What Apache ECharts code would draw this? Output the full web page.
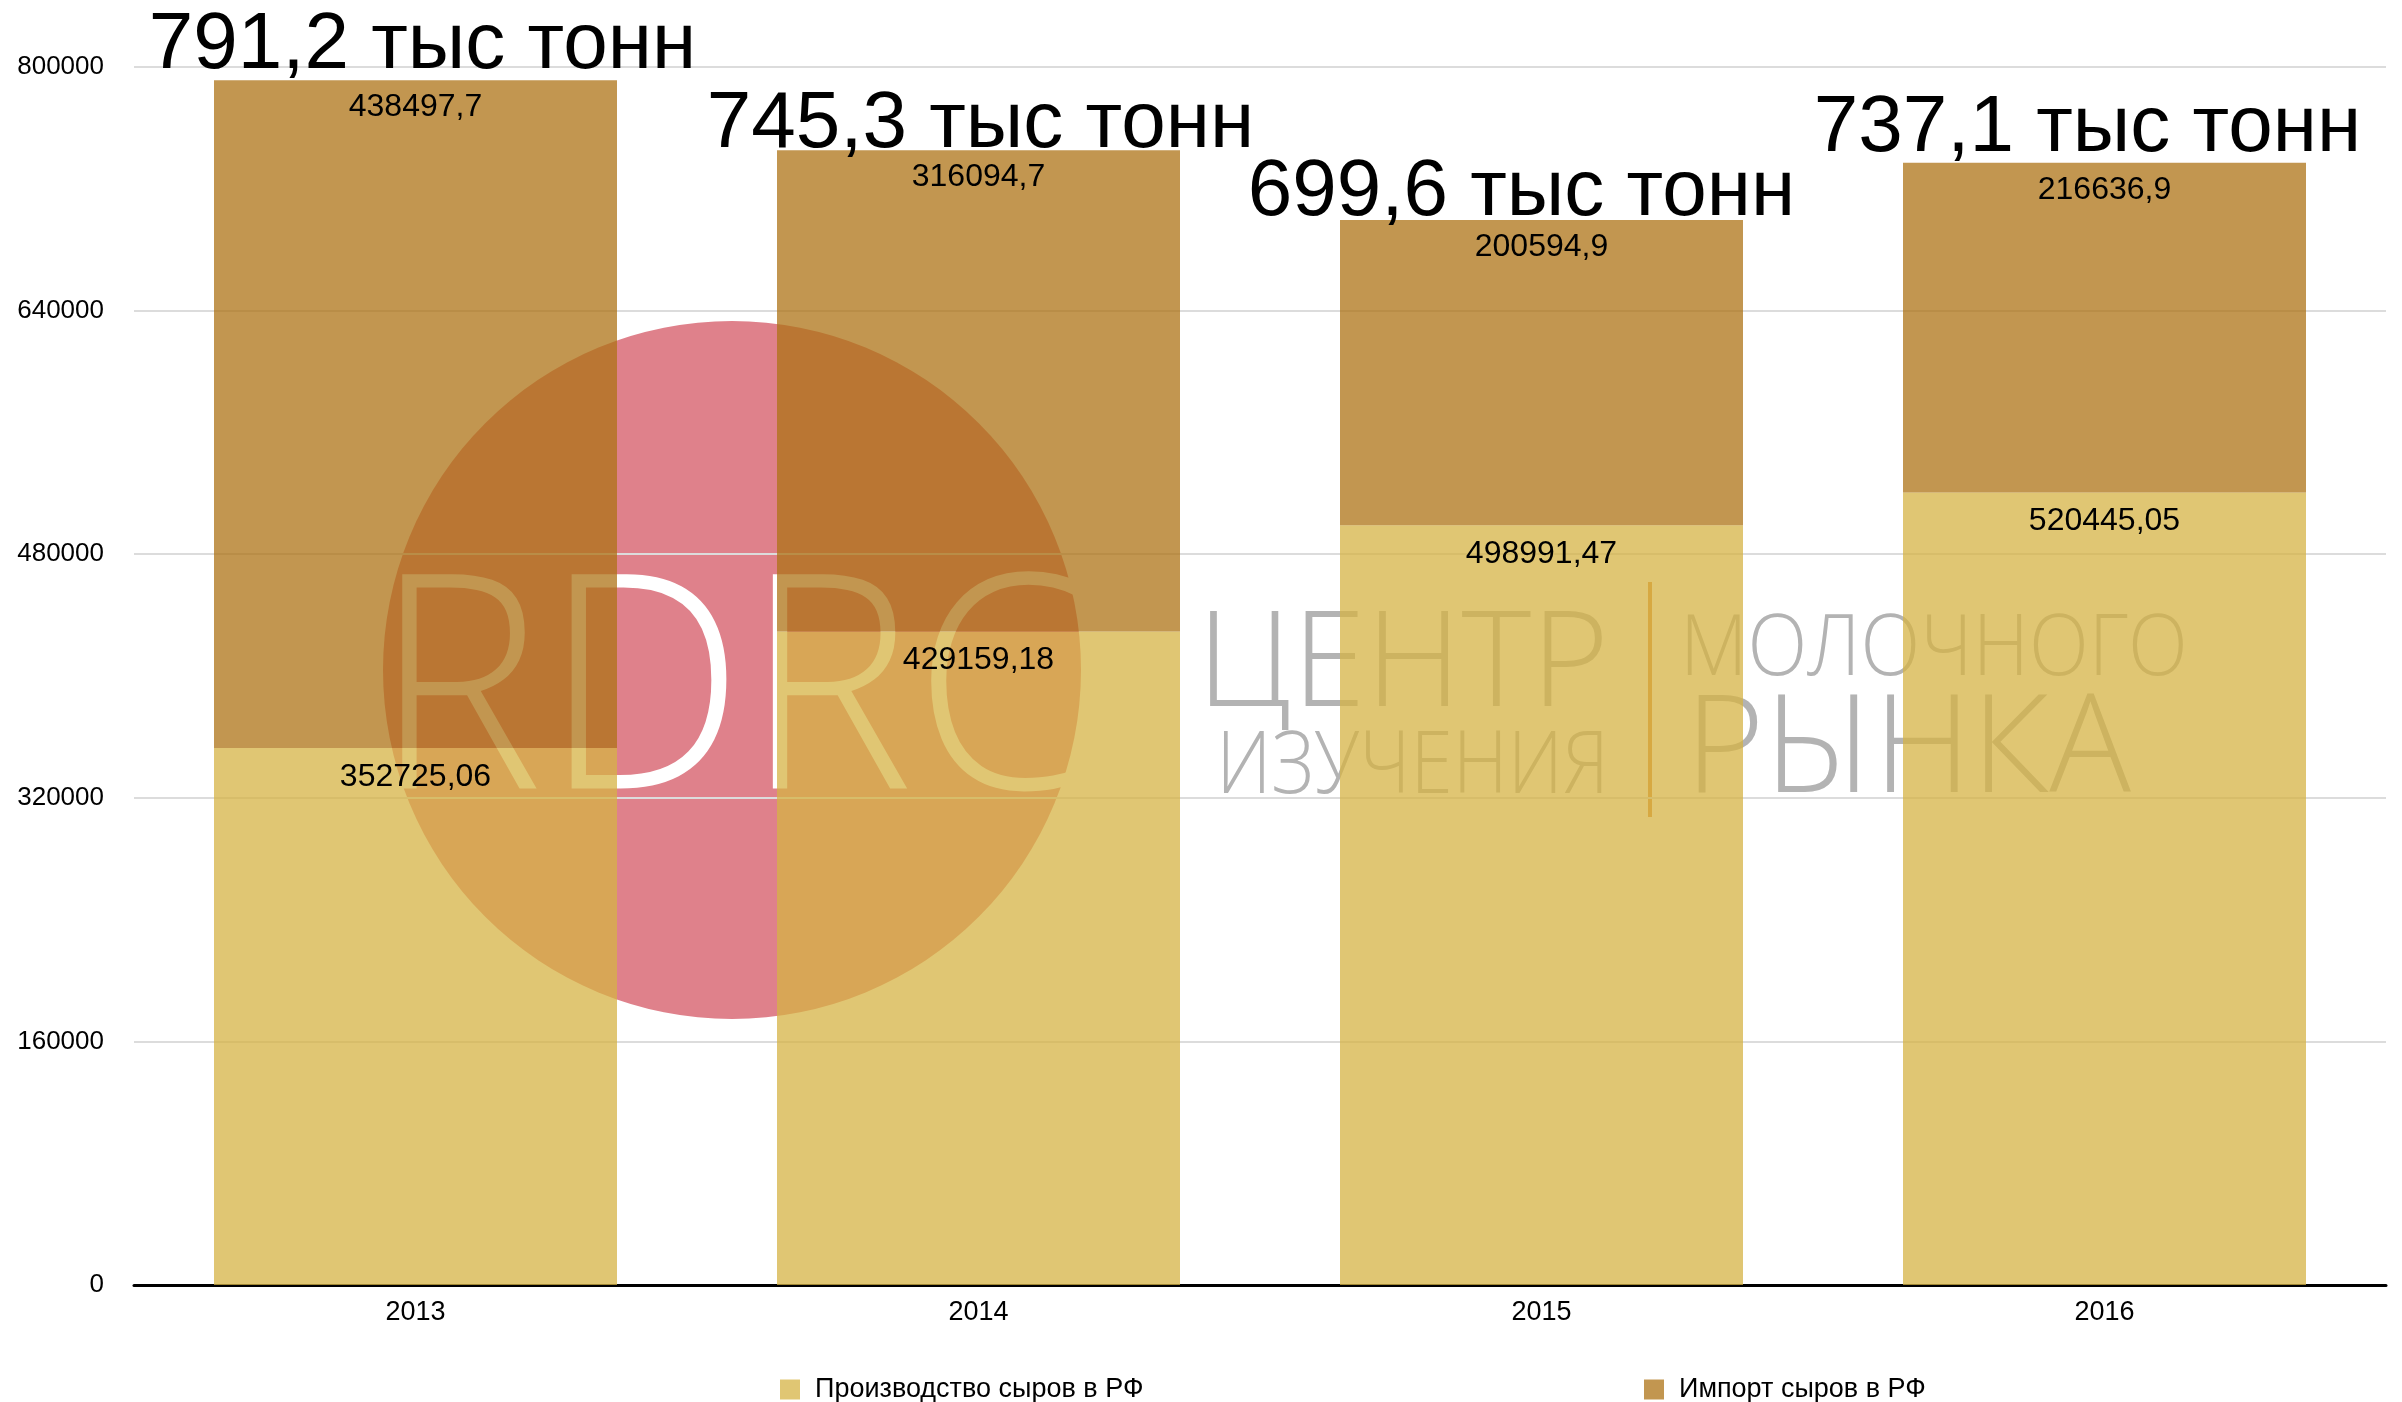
<!DOCTYPE html>
<html>
<head>
<meta charset="utf-8">
<script src="https://cdn.jsdelivr.net/npm/echarts@6/dist/echarts.min.js"></script>
<style>
  html, body { margin: 0; padding: 0; background: #fff; }
  #chart { width: 2402px; height: 1402px; }
</style>
</head>
<body>
<div id="chart"></div>
<script>
// данные по сыру, тонн
const years = ['2013', '2014', '2015', '2016'];
const production = [352725.06, 429159.18, 498991.47, 520445.05];
const imports = [438497.7, 316094.7, 200594.9, 216636.9];
const totalLabels = ['791,2 тыс тонн', '745,3 тыс тонн', '699,6 тыс тонн', '737,1 тыс тонн'];
// небольшой сдвиг подписей итога, как в оригинале
const totalLabelShift = [[7, 2], [2, 11], [-20, 9], [-17, 2]];

const prodName = 'Производство сыров в РФ';
const impName = 'Импорт сыров в РФ';

const font = 'Liberation Sans, Arial, sans-serif';
const fmt = v => String(v).replace('.', ',');

const chart = echarts.init(document.getElementById('chart'));

chart.setOption({
  backgroundColor: '#fff',
  animation: false,
  textStyle: { fontFamily: font },
  grid: { left: 134, right: 16, top: 67, bottom: 117 },
  // водяной знак RDRC за столбцами
  graphic: [
    { type: 'circle', z: -1, shape: { cx: 732, cy: 670, r: 349 }, style: { fill: '#df818b' } },
    {
      type: 'text', z: -1, x: 732, y: 703, scaleX: 0.95,
      style: { text: 'RDRC', fill: '#ffffff', font: '300 300px "Open Sans"', textAlign: 'center', textVerticalAlign: 'middle' }
    },
    {
      type: 'text', z: -1, x: 1609, y: 668,
      style: { text: 'ЦЕНТР', fill: '#b3b3b3', font: '300 133px "Open Sans"', textAlign: 'right', textVerticalAlign: 'middle' }
    },
    {
      type: 'text', z: -1, x: 1609, y: 768, scaleX: 0.88,
      style: { text: 'ИЗУЧЕНИЯ', fill: '#b3b3b3', font: '300 87px "Open Sans"', textAlign: 'right', textVerticalAlign: 'middle' }
    },
    {
      type: 'line', z: -1, shape: { x1: 1650, y1: 582, x2: 1650, y2: 817 },
      style: { stroke: '#dc8d3e', lineWidth: 4 }
    },
    {
      type: 'text', z: -1, x: 1680, y: 651, scaleX: 0.92,
      style: { text: 'МОЛОЧНОГО', fill: '#b3b3b3', font: '300 85px "Open Sans"', textAlign: 'left', textVerticalAlign: 'middle' }
    },
    {
      type: 'text', z: -1, x: 1685, y: 753,
      style: { text: 'РЫНКА', fill: '#b3b3b3', font: '300 136px "Open Sans"', textAlign: 'left', textVerticalAlign: 'middle' }
    }
  ],
  legend: [
    {
      data: [prodName], left: 775, top: 1371, icon: 'rect', itemWidth: 20, itemHeight: 20,
      textStyle: { fontSize: 27, color: '#000', fontFamily: font, padding: [0, 0, 0, 10] }
    },
    {
      data: [impName], left: 1639, top: 1371, icon: 'rect', itemWidth: 20, itemHeight: 20,
      textStyle: { fontSize: 27, color: '#000', fontFamily: font, padding: [0, 0, 0, 10] }
    }
  ],
  xAxis: {
    type: 'category',
    data: years,
    axisLine: { lineStyle: { color: '#000', width: 3 } },
    axisTick: { show: false },
    axisLabel: { color: '#000', fontSize: 27, margin: 14 }
  },
  yAxis: {
    type: 'value',
    min: 0,
    max: 800000,
    interval: 160000,
    axisLine: { show: false },
    axisTick: { show: false },
    axisLabel: { color: '#000', fontSize: 26, margin: 30, formatter: v => String(v) },
    splitLine: { lineStyle: { color: '#dcdcdc', width: 2 } }
  },
  series: [
    {
      name: prodName,
      type: 'bar',
      stack: 'total',
      barWidth: 403,
      data: production,
      itemStyle: { color: 'rgba(214,179,68,0.75)' },
      label: {
        show: true, position: 'insideTop', distance: 13,
        fontSize: 32, color: '#000', formatter: p => fmt(p.value)
      }
    },
    {
      name: impName,
      type: 'bar',
      stack: 'total',
      barWidth: 403,
      data: imports,
      itemStyle: { color: 'rgba(174,115,22,0.75)' },
      label: {
        show: true, position: 'insideTop', distance: 11,
        fontSize: 32, color: '#000', formatter: p => fmt(p.value)
      }
    },
    {
      // подписи итога над столбцами
      name: 'Итого',
      type: 'bar',
      stack: 'total',
      barWidth: 403,
      data: years.map((y, i) => ({ value: 0, label: { offset: totalLabelShift[i] } })),
      itemStyle: { color: 'rgba(0,0,0,0)' },
      label: {
        show: true, position: 'top', distance: -4,
        fontSize: 80, lineHeight: 80, color: '#000',
        formatter: p => totalLabels[p.dataIndex]
      }
    }
  ]
});
</script>
</body>
</html>
